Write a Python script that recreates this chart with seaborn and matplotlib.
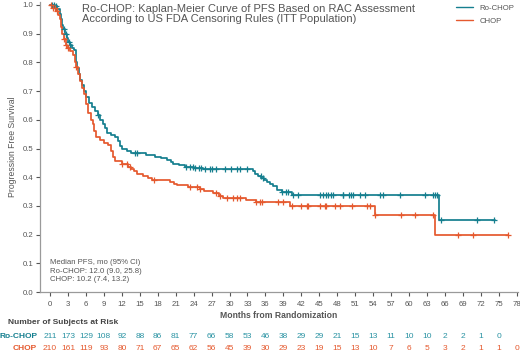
import numpy as np
import matplotlib
matplotlib.use("Agg")
import matplotlib.pyplot as plt
import matplotlib.transforms as mtransforms
import seaborn as sns

sns.set_style("ticks")
plt.rcParams['font.family'] = ['Liberation Sans', 'DejaVu Sans']

# Kaplan-Meier step data (months, survival)
rochop_t = [0, 0.8, 1.2, 1.6, 1.9, 2.0, 2.2, 2.5, 2.8, 3.0, 3.3, 3.6, 4.0, 4.3, 4.5, 4.8,
            5.0, 5.3, 5.6, 6.0, 6.5, 7.0, 7.5, 8.0, 8.4, 8.8, 9.2, 9.6, 10.2, 10.9, 11.3,
            11.7, 12.0, 12.8, 13.5, 16.0, 17.5, 18.5, 19.5, 20.2, 20.6, 21.5, 22.5, 24.0,
            25.6, 34.0, 34.3, 34.8, 35.3, 35.8, 36.3, 36.8, 37.3, 37.9, 38.7, 40.5, 65.0, 74.3]
rochop_s = [1.0, 0.995, 0.985, 0.97, 0.95, 0.93, 0.915, 0.90, 0.885, 0.87, 0.86, 0.85, 0.843,
            0.80, 0.78, 0.76, 0.74, 0.72, 0.70, 0.68, 0.66, 0.645, 0.63, 0.615, 0.60, 0.585,
            0.57, 0.555, 0.547, 0.54, 0.525, 0.51, 0.50, 0.49, 0.483, 0.477, 0.471, 0.466,
            0.46, 0.452, 0.446, 0.441, 0.436, 0.432, 0.428, 0.42, 0.41, 0.405, 0.398, 0.392,
            0.385, 0.378, 0.368, 0.355, 0.35, 0.338, 0.251, 0.251]

chop_t = [0, 0.5, 1.0, 1.3, 1.6, 1.8, 2.0, 2.3, 2.6, 2.9, 3.3, 3.8, 4.1, 4.3, 4.6, 5.0, 5.3,
          5.6, 6.0, 6.4, 6.8, 7.2, 7.4, 7.6, 8.3, 9.0, 9.7, 10.2, 10.5, 10.9, 12.0, 13.0,
          13.5, 14.0, 14.6, 15.5, 16.3, 17.0, 20.0, 20.8, 21.3, 23.0, 25.0, 25.8, 27.3,
          28.2, 28.9, 32.8, 34.5, 40.1, 54.3, 64.3, 76.5]
chop_s = [1.0, 0.99, 0.98, 0.965, 0.95, 0.925, 0.90, 0.88, 0.86, 0.85, 0.84, 0.825, 0.80,
          0.785, 0.76, 0.735, 0.71, 0.69, 0.655, 0.625, 0.60, 0.585, 0.56, 0.54, 0.53, 0.52,
          0.512, 0.49, 0.47, 0.455, 0.447, 0.437, 0.428, 0.42, 0.41, 0.405, 0.398, 0.39,
          0.385, 0.378, 0.372, 0.367, 0.358, 0.352, 0.345, 0.335, 0.326, 0.32, 0.315,
          0.298, 0.267, 0.199, 0.199]

# censoring times
rochop_cens = [0.3, 0.6, 1.0, 2.3, 2.6, 3.1, 3.4, 8.0, 14.2, 14.5, 22.8, 23.4, 23.9, 24.2,
               24.9, 25.2, 25.9, 26.7, 27.0, 27.8, 29.2, 30.3, 31.3, 31.7, 32.9, 35.2, 35.6,
               38.7, 39.5, 39.8, 40.6, 41.5, 45.1, 45.7, 46.1, 46.4, 46.9, 47.3, 48.9, 49.0,
               50.0, 50.3, 50.6, 51.8, 52.6, 55.1, 55.6, 58.5, 62.6, 64.0, 64.3, 64.6, 65.3,
               71.3, 74.2]
chop_cens = [0.2, 0.5, 0.8, 1.1, 2.4, 2.7, 3.0, 4.4, 12.0, 12.8, 13.4, 17.3, 23.4, 24.5,
             25.0, 27.8, 28.4, 29.5, 30.6, 31.2, 31.7, 34.5, 35.1, 35.4, 38.1, 39.0, 40.4,
             42.0, 42.9, 43.1, 45.1, 45.9, 46.2, 47.6, 48.4, 50.4, 52.9, 53.4, 54.3, 58.7,
             61.0, 64.0, 68.2, 70.7, 76.5]

risk_months = list(range(0, 79, 3))
rochop_risk = [211, 173, 129, 108, 92, 88, 86, 81, 77, 66, 58, 53, 46, 38, 29, 29, 21, 15,
               13, 11, 10, 10, 2, 2, 1, 0]
chop_risk = [210, 161, 119, 93, 80, 71, 67, 65, 62, 56, 45, 39, 30, 29, 23, 19, 15, 13, 10,
             7, 6, 5, 3, 2, 1, 1, 0]

teal = "#157f8f"
orange = "#e5592e"
grey = "#555555"

fig = plt.figure(figsize=(5.2, 3.51), dpi=100)
ax = fig.add_axes([0.077, 0.168, 0.919, 0.826])

sns.lineplot(x=rochop_t, y=rochop_s, drawstyle='steps-post', estimator=None, sort=False,
             color=teal, linewidth=1.25, label='Ro-CHOP', ax=ax)
sns.lineplot(x=chop_t, y=chop_s, drawstyle='steps-post', estimator=None, sort=False,
             color=orange, linewidth=1.25, label='CHOP', ax=ax)


def at_time(times, surv, c):
    i = np.searchsorted(times, c, side='right') - 1
    return surv[i]


rc_y = [at_time(rochop_t, rochop_s, c) for c in rochop_cens]
ch_y = [at_time(chop_t, chop_s, c) for c in chop_cens]
sns.scatterplot(x=rochop_cens, y=rc_y, marker='+', s=22, color=teal, linewidth=0.9,
                ax=ax, clip_on=False, zorder=3)
sns.scatterplot(x=chop_cens, y=ch_y, marker='+', s=22, color=orange, linewidth=0.9,
                ax=ax, clip_on=False, zorder=3)

ax.set_xlim(-1.67, 78.2)
ax.set_ylim(0, 1.01)
ax.set_xticks(risk_months)
ax.set_yticks(np.arange(0, 1.01, 0.1))
ax.set_yticklabels([f"{v:.1f}" for v in np.arange(0, 1.01, 0.1)])
ax.tick_params(axis='both', labelsize=5.6, colors=grey, length=3, width=0.8,
               labelcolor=grey, pad=2)
ax.tick_params(axis='x', pad=3.5)
for sp in ['top', 'right']:
    ax.spines[sp].set_visible(False)
for sp in ['left', 'bottom']:
    ax.spines[sp].set_color("#9a9a9a")
    ax.spines[sp].set_linewidth(0.9)

ax.set_ylabel('Progression Free Survival', fontsize=6.2, color=grey, labelpad=4)
ax.set_xlabel('Months from Randomization', fontsize=6.2, color=grey, fontweight='bold',
              labelpad=2)

ax.text((82 - 40) / 478, 0.995,
        'Ro-CHOP: Kaplan-Meier Curve of PFS Based on RAC Assessment\n'
        'According to US FDA Censoring Rules (ITT Population)',
        fontsize=8, color=grey, va='top', ha='left', linespacing=1.1,
        transform=ax.transAxes)

ax.text(0.0, 0.115, 'Median PFS, mo (95% CI)\nRo-CHOP: 12.0 (9.0, 25.8)\nCHOP: 10.2 (7.4, 13.2)',
        fontsize=5.6, color=grey, va='top', ha='left', linespacing=1.3)

leg = ax.legend(loc='upper right', bbox_to_anchor=(1.0, 1.005), frameon=False, fontsize=5.6,
                handlelength=2.2, labelspacing=0.7, borderaxespad=0.1)
for t in leg.get_texts():
    t.set_color(grey)
for h in leg.get_lines():
    h.set_linewidth(1.0)

# number at risk table
tr = mtransforms.blended_transform_factory(ax.transData, fig.transFigure)
fig.text(8 / 520, 1 - 323 / 351, 'Number of Subjects at Risk', fontsize=6, color="#444444",
         fontweight='bold', va='center', ha='left')
fig.text(37 / 520, 1 - 336 / 351, 'Ro-CHOP', fontsize=6, color=teal, fontweight='bold',
         va='center', ha='right')
fig.text(37 / 520, 1 - 348 / 351, 'CHOP', fontsize=6, color=orange, fontweight='bold',
         va='center', ha='right')
for m, n in zip(risk_months, rochop_risk):
    ax.text(m, 1 - 336 / 351, str(n), transform=tr, fontsize=6, color="#2a93a3",
            ha='center', va='center')
for m, n in zip(risk_months, chop_risk):
    ax.text(m, 1 - 348 / 351, str(n), transform=tr, fontsize=6, color=orange,
            ha='center', va='center')

fig.savefig('out.png', dpi=100)
